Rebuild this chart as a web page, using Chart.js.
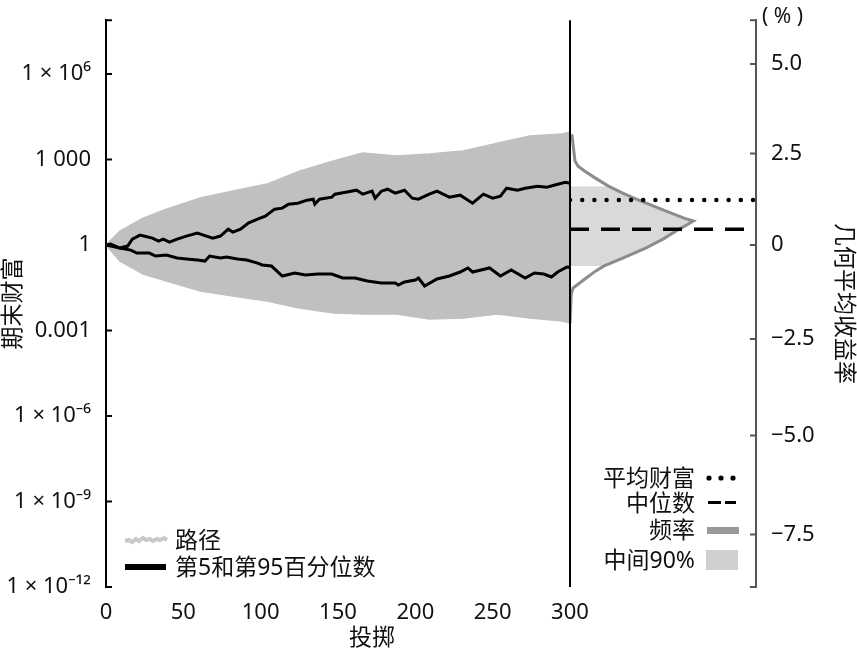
<!DOCTYPE html>
<html lang="zh">
<head>
<meta charset="utf-8">
<title>期末财富与几何平均收益率</title>
<script src="https://cdn.jsdelivr.net/npm/chart.js@4.4.0/dist/chart.umd.min.js"></script>
<style>
  body { margin: 0; background: #fff; }
  #wrap {
    position: relative; width: 857px; height: 651px; overflow: hidden;
    font-family: 'Noto Sans', 'Noto Sans CJK SC', sans-serif; color: #111;
  }
  canvas { position: absolute; top: 0; }
  #pathChart { left: 0; }
  #histChart { left: 560px; }
  .txt { position: absolute; font-size: 23px; line-height: 23px; white-space: nowrap; }
  .right { text-align: right; }
  .swatch { position: absolute; }
</style>
</head>
<body>
<div id="wrap">
  <canvas id="pathChart" width="600" height="651"></canvas>
  <canvas id="histChart" width="297" height="651"></canvas>

  <!-- left legend -->
  <svg class="swatch" style="left:124px; top:533px" width="44" height="14">
    <polyline points="1,8 5,7 8,9 12,6 15,8 19,5 22,7 26,6 29,8 33,6 36,7 40,5 43,7"
              fill="none" stroke="#c9c9c9" stroke-width="4"/>
  </svg>
  <div class="txt" style="left:175px; top:528px">路径</div>
  <div class="swatch" style="left:125px; top:564px; width:41px; height:6px; background:#000"></div>
  <div class="txt" style="left:175px; top:555px">第5和第95百分位数</div>

  <!-- right legend -->
  <div class="txt right" style="right:162px; top:466px">平均财富</div>
  <svg class="swatch" style="left:705px; top:472px" width="34" height="12">
    <circle cx="4" cy="6" r="2.6" fill="#000"/><circle cx="16" cy="6" r="2.6" fill="#000"/><circle cx="28" cy="6" r="2.6" fill="#000"/>
  </svg>
  <div class="txt right" style="right:162px; top:491px">中位数</div>
  <div class="swatch" style="left:708px; top:501px; width:13px; height:3px; background:#000"></div>
  <div class="swatch" style="left:725px; top:501px; width:11px; height:3px; background:#000"></div>
  <div class="txt right" style="right:162px; top:518px">频率</div>
  <div class="swatch" style="left:707px; top:527px; width:32px; height:7px; background:#999"></div>
  <div class="txt right" style="right:162px; top:548px">中间90%</div>
  <div class="swatch" style="left:706px; top:550px; width:32px; height:20px; background:#d0d0d0"></div>

  <div class="txt" style="left:762px; top:4px; font-size:21px">( % )</div>
  <div class="txt" style="left:349px; top:625px">投掷</div>
</div>

<script>
// ---- data ----
const STEPS = 300;

// wealth ticks (left axis) and return ticks (right axis, %)
const wealthTicks = [1e-12, 1e-9, 1e-6, 1e-3, 1, 1e3, 1e6];
const wealthTickLabels = ['1 × 10⁻¹²', '1 × 10⁻⁹', '1 × 10⁻⁶', '0.001', '1', '1 000', '1 × 10⁶'];
const returnTicks = [5, 2.5, 0, -2.5, -5, -7.5];
const returnTickLabels = ['5.0', '2.5', '0', '−2.5', '−5.0', '−7.5'];
const wealthMin = 1e-12;
const wealthMax = 7.8e7;

// 95th percentile path
const p95Steps = [0, 3, 9, 14, 17, 22, 27, 30, 34, 37, 41, 46, 52, 59, 63, 69, 74, 79, 82, 87, 92, 98,
                  103, 109, 114, 118, 124, 130, 134, 135, 138, 146, 148, 155, 162, 166, 172, 174, 178,
                  182, 187, 193, 198, 202, 209, 214, 222, 229, 237, 244, 250, 255, 259, 266, 271, 279,
                  285, 292, 297, 300];
const p95Wealth = [1, 1.08, 0.785, 0.923, 1.62, 2.24, 1.91, 1.76, 1.38, 1.62, 1.27, 1.62, 2.07, 2.63,
                   2.24, 1.76, 2.07, 3.63, 2.85, 3.63, 5.89, 8.13, 10.4, 18.2, 19.8, 27.3, 29.6, 37.6,
                   40.8, 27.3, 40.8, 48.0, 61.1, 71.8, 84.3, 61.1, 77.8, 44.2, 77.8, 91.4, 66.2, 84.3,
                   44.2, 40.8, 61.1, 77.8, 48.0, 56.3, 29.6, 61.1, 44.2, 52.0, 99.1, 84.3, 99.1, 116,
                   107, 137, 161, 148];

// 5th percentile path
const p5Steps = [0, 9, 16, 20, 28, 32, 39, 46, 52, 59, 64, 67, 74, 78, 85, 91, 98, 101, 107, 114, 122,
                 129, 137, 146, 153, 161, 169, 178, 187, 189, 193, 200, 202, 206, 214, 222, 229, 234,
                 237, 248, 255, 262, 271, 277, 283, 288, 292, 298, 300];
const p5Wealth = [1, 0.785, 0.668, 0.525, 0.525, 0.412, 0.447, 0.351, 0.324, 0.298, 0.275, 0.412, 0.351,
                  0.380, 0.324, 0.298, 0.234, 0.200, 0.184, 0.0822, 0.105, 0.0891, 0.0966, 0.0966,
                  0.0700, 0.0700, 0.0548, 0.0467, 0.0467, 0.0397, 0.0506, 0.0595, 0.0700, 0.0367,
                  0.0645, 0.0822, 0.1135, 0.157, 0.1135, 0.157, 0.0822, 0.133, 0.0700, 0.105, 0.0966,
                  0.0759, 0.1135, 0.170, 0.165];

// outer edge of the cloud of simulated paths
const cloudSteps = [0, 9, 24, 39, 61, 82, 104, 125, 147, 166, 188, 209, 231, 253, 274, 295, 300];
const cloudHigh = [1, 3.1, 8.86, 18.3, 44.6, 78.5, 138, 395, 886, 1690, 1330, 1560, 1990, 3790, 6680, 7850, 9230];
const cloudLow = [1, 0.275, 0.096, 0.0546, 0.0243, 0.0163, 0.0108, 0.00616, 0.00411, 0.00379, 0.00379,
                  0.00253, 0.00275, 0.00379, 0.00275, 0.00216, 0.00183];

// distribution of the geometric mean return after 300 throws (%)
const histReturn = [3.03, 2.29, 2.15, 2.01, 1.82, 1.60, 1.41, 1.25, 1.06, 0.92, 0.73, 0.65, 0.57, 0.38,
                    0.16, -0.08, -0.35, -0.51, -0.56, -0.70, -0.91, -1.15, -1.31, -2.08];
const histFreq = [0.003, 0.008, 0.013, 0.024, 0.041, 0.062, 0.085, 0.106, 0.134, 0.155, 0.184, 0.199,
                  0.191, 0.171, 0.150, 0.122, 0.085, 0.062, 0.055, 0.041, 0.024, 0.005, 0.002, 0];
const middle90 = [-0.56, 1.60];
const meanReturn = 1.22;
const medianReturn = 0.43;

// ---- helpers ----
const FONT = "'Noto Sans', 'Noto Sans CJK SC', sans-serif";
const toWealth = r => Math.pow(1 + r / 100, STEPS);
const zip = (xs, ys) => xs.map((x, i) => ({x: x, y: ys[i]}));

// inward tick marks, bracket ends and the divider line
const axisDecor = {
  id: 'axisDecor',
  afterDraw(chart, args, opts) {
    const {ctx, chartArea} = chart;
    const scale = chart.scales.y;
    const left = opts.side === 'left';
    const x0 = left ? chartArea.left : chartArea.right;
    const d = left ? 6 : -6;
    ctx.save();
    ctx.strokeStyle = opts.color;
    ctx.lineWidth = 2;
    ctx.beginPath();
    scale.ticks.forEach(t => {
      const y = scale.getPixelForValue(t.value);
      ctx.moveTo(x0, y);
      ctx.lineTo(x0 + d, y);
    });
    [chartArea.top, chartArea.bottom].forEach(y => {
      ctx.moveTo(x0, y);
      ctx.lineTo(x0 + d, y);
    });
    ctx.stroke();
    if (opts.divider) {
      ctx.strokeStyle = '#000';
      ctx.beginPath();
      ctx.moveTo(chartArea.left, chartArea.top);
      ctx.lineTo(chartArea.left, chartArea.bottom);
      ctx.stroke();
    }
    ctx.restore();
  }
};

// ---- left panel: wealth paths ----
new Chart(document.getElementById('pathChart'), {
  type: 'line',
  data: {
    datasets: [
      {
        label: '第5和第95百分位数',
        data: zip(p95Steps, p95Wealth),
        borderColor: '#000', borderWidth: 3, pointRadius: 0, order: 0
      },
      {
        label: '第5百分位数',
        data: zip(p5Steps, p5Wealth),
        borderColor: '#000', borderWidth: 3, pointRadius: 0, order: 0
      },
      {
        label: '路径',
        data: zip(cloudSteps, cloudHigh),
        borderColor: '#c0c0c0', backgroundColor: '#c0c0c0', borderWidth: 1.5,
        pointRadius: 0, fill: '+1', order: 1
      },
      {
        label: '路径下沿',
        data: zip(cloudSteps, cloudLow),
        borderColor: '#c0c0c0', borderWidth: 1.5, pointRadius: 0, order: 1
      }
    ]
  },
  options: {
    responsive: false,
    animation: false,
    layout: { padding: { top: 19, right: 30, left: 0, bottom: 0 } },
    plugins: {
      legend: { display: false },
      tooltip: { enabled: false },
      axisDecor: { side: 'left', color: '#000' }
    },
    scales: {
      x: {
        type: 'linear', min: 0, max: STEPS,
        grid: { display: false },
        border: { display: false },
        ticks: { stepSize: 50, padding: 5, color: '#111', font: { family: FONT, size: 22 } },
        afterFit: scale => { scale.height = 64; }
      },
      y: {
        type: 'logarithmic', min: wealthMin, max: wealthMax,
        grid: { display: false },
        border: { display: true, color: '#000', width: 2 },
        afterBuildTicks: scale => { scale.ticks = wealthTicks.map(v => ({value: v})); },
        ticks: {
          padding: 7, color: '#111', font: { family: FONT, size: 22 },
          callback: (value, index) => wealthTickLabels[index]
        },
        title: {
          display: true, text: '期末财富', color: '#111', padding: 0,
          font: { family: FONT, size: 23 }
        },
        afterFit: scale => { scale.width = 106; }
      }
    }
  },
  plugins: [axisDecor]
});

// ---- right panel: distribution of returns ----
const histPoints = histReturn.map((r, i) => ({x: histFreq[i], y: toWealth(r)}));
const bandPoints = histReturn
  .map((r, i) => ({r: r, x: histFreq[i]}))
  .filter(p => p.r >= middle90[0] && p.r <= middle90[1])
  .map(p => ({x: p.x, y: toWealth(p.r)}));

new Chart(document.getElementById('histChart'), {
  type: 'line',
  data: {
    datasets: [
      {
        label: '平均财富',
        data: [{x: 0, y: toWealth(meanReturn)}, {x: 0.3, y: toWealth(meanReturn)}],
        borderColor: '#000', borderWidth: 4.5, borderDash: [0, 12.2], borderCapStyle: 'round',
        pointRadius: 0, order: 0
      },
      {
        label: '中位数',
        data: [{x: 0, y: toWealth(medianReturn)}, {x: 0.3, y: toWealth(medianReturn)}],
        borderColor: '#000', borderWidth: 3.5, borderDash: [19, 12],
        pointRadius: 0, order: 0
      },
      {
        label: '频率',
        data: histPoints,
        borderColor: '#8c8c8c', borderWidth: 3, pointRadius: 0, order: 1
      },
      {
        label: '中间90%',
        data: bandPoints,
        borderWidth: 0, backgroundColor: '#d9d9d9', fill: 'origin', pointRadius: 0, order: 2
      }
    ]
  },
  options: {
    responsive: false,
    animation: false,
    indexAxis: 'y',
    layout: { padding: { top: 19, right: 0, left: 10, bottom: 64 } },
    plugins: {
      legend: { display: false },
      tooltip: { enabled: false },
      axisDecor: { side: 'right', color: '#555', divider: true }
    },
    scales: {
      x: { type: 'linear', min: 0, max: 0.3, display: false },
      y: {
        type: 'logarithmic', position: 'right', min: wealthMin, max: wealthMax,
        grid: { display: false },
        border: { display: true, color: '#555', width: 2 },
        afterBuildTicks: scale => { scale.ticks = returnTicks.map(r => ({value: toWealth(r)})); },
        ticks: {
          padding: 7, color: '#111', font: { family: FONT, size: 22 },
          callback: (value, index) => returnTickLabels[index]
        },
        title: {
          display: true, text: '几何平均收益率', color: '#111', padding: 0,
          font: { family: FONT, size: 23 }
        },
        afterFit: scale => { scale.width = 101; }
      }
    }
  },
  plugins: [axisDecor]
});
</script>
</body>
</html>
